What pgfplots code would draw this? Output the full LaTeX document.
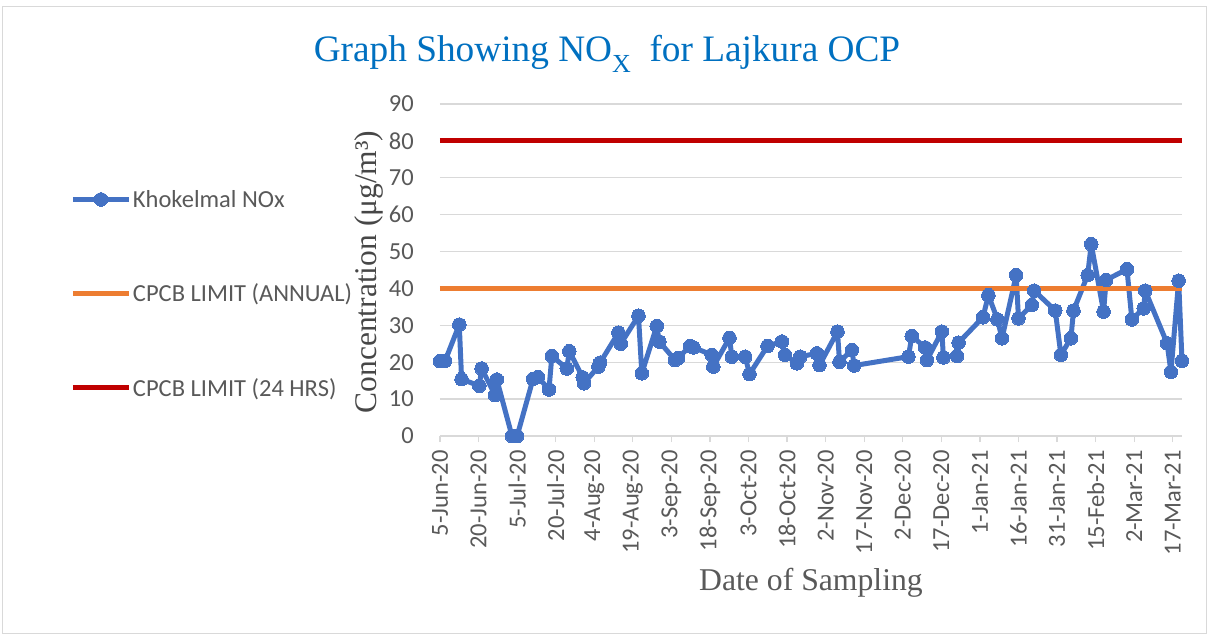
\documentclass[border=0pt]{standalone}
\usepackage{pgfplots}
\pgfplotsset{compat=1.18}
\usepackage{fontspec}
\setmainfont{Liberation Serif}
\newfontfamily\calibri{Carlito}

\definecolor{noxblue}{RGB}{68,114,196}
\definecolor{annorange}{RGB}{237,125,49}
\definecolor{dayred}{RGB}{192,0,0}
\definecolor{gridgray}{RGB}{217,217,217}
\definecolor{labgray}{RGB}{89,89,89}
\definecolor{titleblue}{RGB}{0,112,192}

% day 0 = 5-Jun-20
\pgfplotstableread{
day val
0 20.3
2 20.4
7.5 30.2
8.4 15.4
15.3 13.6
16.2 18.3
21.4 11.1
22.1 15.3
28 0
30 0
36.2 15.5
38.1 16
42.4 12.6
43.5 21.7
49.3 18.3
50.3 23
55.5 15.9
56 14.3
61.6 18.8
62.3 19.9
69.4 28
70.3 25
77.2 32.6
78.5 17
84.3 29.8
85.3 25.6
91.4 20.6
92.6 21.1
97.3 24.4
98.6 24
105.7 22
106.3 18.8
112.6 26.6
113.5 21.5
118.7 21.5
120.4 16.8
127.4 24.4
133 25.6
134.2 22
138.8 19.7
140.1 21.5
146.6 22.4
147.6 19.2
154.6 28.3
155.4 20.1
160.2 23.3
161.1 19.1
182.2 21.5
183.5 27.1
188.7 24
189.4 20.6
195.2 28.3
195.8 21.3
201.1 21.7
201.7 25.3
211.2 32.2
213.3 38.2
216.8 31.6
218.6 26.5
224.1 43.6
225 31.9
230.2 35.5
231.1 39.4
239.3 34
241.5 22
245.4 26.5
246.4 34
251.9 43.6
253.3 52
258.1 33.7
259.1 42.3
267.2 45.2
269.1 31.6
273.7 34.6
274.3 39.4
282.8 25.1
284.3 17.4
287.3 42.1
288.6 20.4
}\noxdata

\begin{document}
\begin{tikzpicture}
  \useasboundingbox (0,0) rectangle (1208pt,635pt);
  \draw[gridgray, line width=1pt] (2pt,2pt) rectangle (1206pt,628pt);
  \begin{axis}[
      at={(440pt,199pt)}, anchor=south west,
      scale only axis, width=742pt, height=332pt,
      xmin=0, xmax=288.6, ymin=0, ymax=90,
      xtick={0,15,...,285},
      xticklabels={5-Jun-20,20-Jun-20,5-Jul-20,20-Jul-20,4-Aug-20,19-Aug-20,
        3-Sep-20,18-Sep-20,3-Oct-20,18-Oct-20,2-Nov-20,17-Nov-20,2-Dec-20,
        17-Dec-20,1-Jan-21,16-Jan-21,31-Jan-21,15-Feb-21,2-Mar-21,17-Mar-21},
      ytick={0,10,...,90},
      axis x line*=bottom, axis y line*=left,
      x axis line style={draw=gridgray, line width=1.3pt},
      y axis line style={draw=none},
      ytick style={draw=none},
      xtick style={draw=gridgray, line width=1.3pt},
      major tick length=6pt, tick align=outside,
      ymajorgrids, grid style={draw=gridgray, line width=1.3pt},
      /pgf/number format/assume math mode=true,
      ticklabel style={font=\calibri\fontsize{24.5}{24.5}\selectfont, text=labgray},
      xticklabel style={rotate=90, anchor=east, inner sep=0pt},
      xticklabel shift=8pt,
      yticklabel style={inner sep=0pt, xshift=-20pt},
      xlabel={Date of Sampling},
      xlabel style={at={(axis description cs:0.5,-0.443)}, anchor=center,
        font=\fontsize{31.7}{31.7}\selectfont, text=labgray},
      ylabel={Concentration (μg/m³)},
      ylabel style={at={(axis description cs:-0.096,0.494)}, anchor=center,
        font=\fontsize{31.5}{31.5}\selectfont, text=labgray!80!black},
      legend image code/.code={%
        \draw[mark repeat=2,mark phase=2,#1] plot coordinates {(0pt,0pt) (28pt,0pt) (56pt,0pt)};},
      legend style={at={(-0.498,0.745)}, anchor=north west, draw=none, fill=none,
        inner sep=0pt, outer sep=0pt, row sep=72pt,
        font=\calibri\fontsize{24.5}{24.5}\selectfont, text=labgray,
        nodes={inner sep=1.5pt}},
      legend cell align=left,
      clip=false,
    ]
    \addplot[noxblue, line width=5pt, line join=round, mark=*, mark size=6.8pt,
      mark options={fill=noxblue, draw=noxblue, line width=0pt}]
      table[x=day, y=val] {\noxdata};
    \addlegendentry{Khokelmal NOx}
    \addplot[annorange, line width=5pt] coordinates {(0,40) (288.6,40)};
    \addlegendentry{CPCB LIMIT (ANNUAL)}
    \addplot[dayred, line width=5pt] coordinates {(0,80) (288.6,80)};
    \addlegendentry{CPCB LIMIT (24 HRS)}
  \end{axis}
  \node[text=titleblue, font=\fontsize{37.3}{37.3}\selectfont, anchor=base]
    at (607pt,573pt) {Graph Showing NO\raisebox{-0.28em}{\fontsize{26}{26}\selectfont X}\ \ for Lajkura OCP};
\end{tikzpicture}
\end{document}
